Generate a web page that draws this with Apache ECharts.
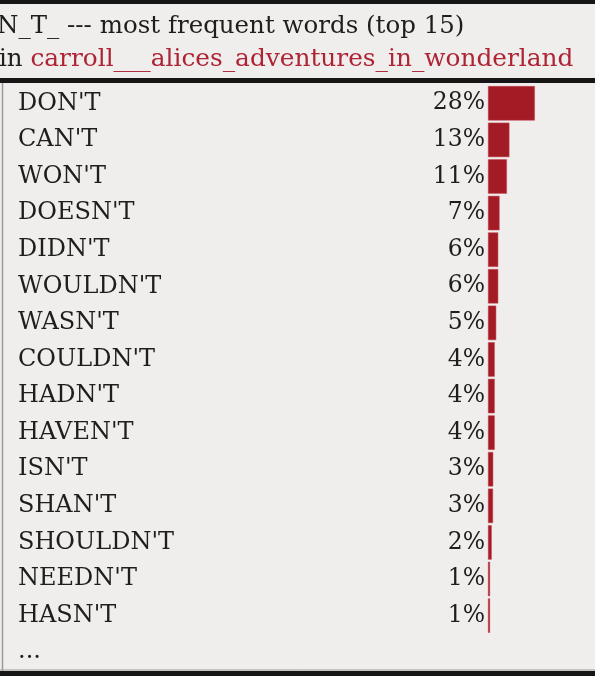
<!DOCTYPE html>
<html>
<head>
<meta charset="utf-8">
<script src="https://cdn.jsdelivr.net/npm/echarts@6/dist/echarts.min.js"></script>
<style>
html,body{margin:0;padding:0;background:#efeeec;}
#chart{width:595px;height:676px;}
</style>
</head>
<body>
<div id="chart"></div>
<script>
const titleLine1 = "N_T_ --- most frequent words (top 15)";
const titlePrefix = "in ";
const bookName = "carroll___alices_adventures_in_wonderland";
const words = ["DON'T","CAN'T","WON'T","DOESN'T","DIDN'T","WOULDN'T","WASN'T","COULDN'T","HADN'T","HAVEN'T","ISN'T","SHAN'T","SHOULDN'T","NEEDN'T","HASN'T","..."];
const shares = [28.0, 12.8, 11.3, 6.9, 6.1, 6.1, 4.9, 4.0, 4.0, 4.0, 3.1, 3.0, 2.2, 1.2, 1.2, null];

const FONT = "DejaVu Serif";
const chart = echarts.init(document.getElementById('chart'), null, {renderer:'canvas'});
chart.setOption({
  backgroundColor: '#efeeec',
  animation: false,
  graphic: [
    {type:'rect', shape:{x:0,y:0,width:595,height:4}, style:{fill:'#161616'}, z:10},
    {type:'rect', shape:{x:0,y:78,width:595,height:5}, style:{fill:'#161616'}, z:10},
    {type:'rect', shape:{x:0,y:671,width:595,height:5}, style:{fill:'#161616'}, z:10},
    {type:'line', shape:{x1:2.5,y1:83,x2:2.5,y2:671}, style:{stroke:'#9a9a9a',lineWidth:1.5}, z:10},
    {type:'line', shape:{x1:0,y1:670,x2:595,y2:670}, style:{stroke:'#9a9a9a',lineWidth:1}, z:10},
    {type:'text', x:-3, y:27, style:{text:titleLine1, font:'24.5px "'+FONT+'"', fill:'#1e1e1e', textVerticalAlign:'middle'}, z:10},
    {type:'text', x:-1, y:60, style:{
      text:'{a|'+titlePrefix+'}{b|'+bookName+'}',
      textVerticalAlign:'middle',
      rich:{
        a:{fontFamily:FONT,fontSize:24.5,fill:'#1e1e1e'},
        b:{fontFamily:FONT,fontSize:24.8,fill:'#ae2435'}
      }}, z:10}
  ],
  grid: {left:488, right:0, top:85, bottom:5.5, containLabel:false},
  xAxis: {type:'value', min:0, max:64, show:false},
  yAxis: {
    type:'category', data:words, inverse:true,
    axisLine:{show:false}, axisTick:{show:false}, splitLine:{show:false},
    axisLabel:{align:'left', margin:470, fontFamily:FONT, fontSize:24, color:'#1e1e1e'}
  },
  series: [{
    type:'bar', data:shares, barCategoryGap:'6%',
    itemStyle:{color:'#a31b25', borderColor:'#c4404f', borderWidth:0.5},
    label:{show:true, position:'left', distance:3, fontFamily:FONT, fontSize:23.5, color:'#1e1e1e',
      formatter:p => p.value == null ? '' : Math.round(p.value) + '%'}
  }]
});
</script>
</body>
</html>
